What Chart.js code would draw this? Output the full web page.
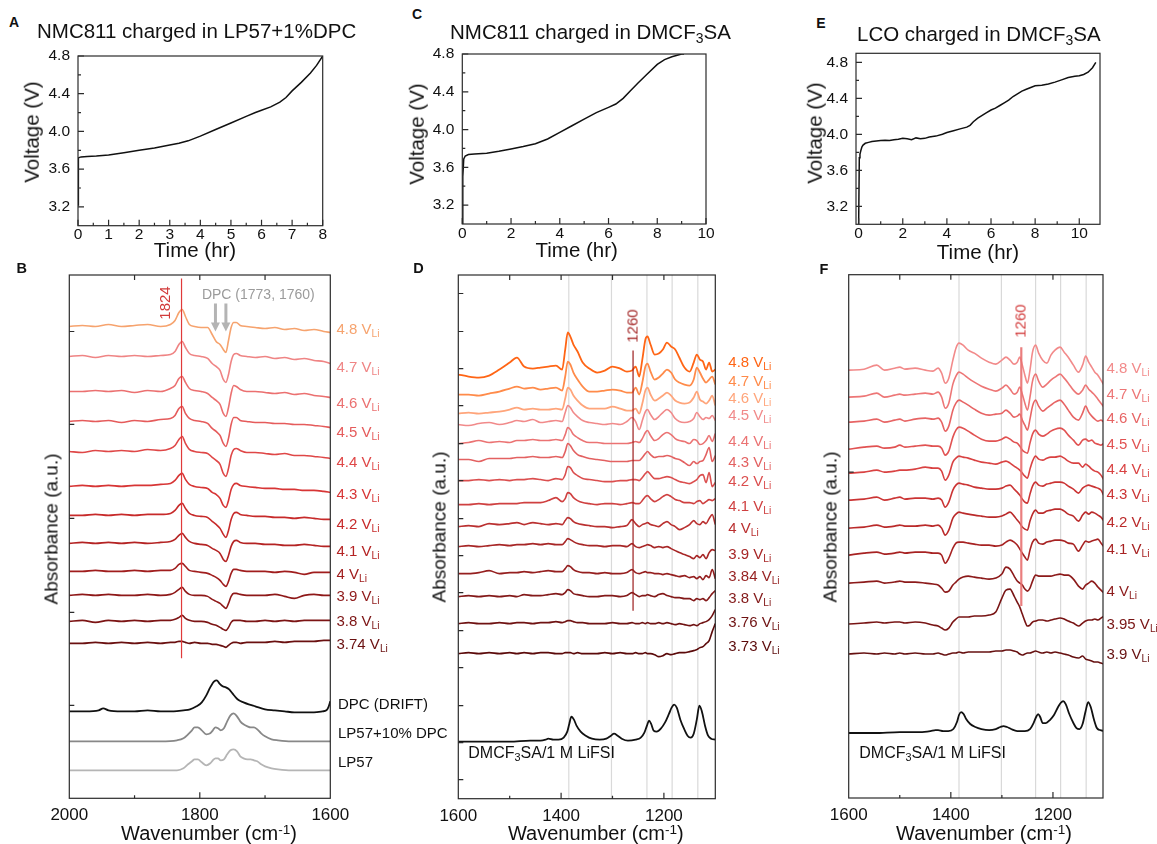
<!DOCTYPE html>
<html>
<head>
<meta charset="utf-8">
<script src="https://cdn.jsdelivr.net/npm/chart.js@4.4.1/dist/chart.umd.min.js"></script>
<style>
  body { margin: 0; background: #fff; width: 1157px; height: 844px; position: relative; overflow: hidden;
         font-family: "Liberation Sans", Arial, Helvetica, sans-serif; color: #111; }
  canvas { position: absolute; }
  .t { position: absolute; white-space: nowrap; line-height: 1; }
  .t sub { font-size: 0.68em; vertical-align: -0.3em; line-height: 0; }
  .t sup { font-size: 0.68em; vertical-align: 0.45em; line-height: 0; }
</style>
</head>
<body>
<script>
// ---------- top row: charge curves ----------
const timeA = [0, 0.005, 0.02, 0.1, 0.3, 0.6, 1, 1.5, 2, 2.5, 3, 3.3, 3.6, 4, 4.5, 5, 5.5, 5.8, 6, 6.3, 6.6, 6.8, 7, 7.3, 7.6, 7.8, 8];
const voltA = [3.22, 3.6, 3.72, 3.73, 3.735, 3.74, 3.75, 3.775, 3.8, 3.825, 3.855, 3.875, 3.9, 3.95, 4.02, 4.09, 4.16, 4.2, 4.225, 4.26, 4.31, 4.36, 4.43, 4.52, 4.62, 4.7, 4.8];

const timeC = [0, 0.02, 0.06, 0.12, 0.25, 0.5, 1, 1.5, 2, 2.5, 3, 3.5, 4, 4.5, 5, 5.5, 6, 6.3, 6.6, 6.9, 7.2, 7.6, 8, 8.3, 8.6, 9, 9.1];
const voltC = [3.0, 3.5, 3.69, 3.72, 3.735, 3.74, 3.75, 3.77, 3.795, 3.82, 3.85, 3.9, 3.97, 4.04, 4.11, 4.18, 4.235, 4.27, 4.33, 4.41, 4.49, 4.59, 4.69, 4.74, 4.77, 4.8, 4.8];

const timeE = [0, 0.03, 0.06, 0.1, 0.15, 0.2, 0.3, 0.45, 0.6, 0.8, 1, 1.2, 1.4, 1.6, 1.8, 2, 2.2, 2.4, 2.6, 2.8, 3, 3.2, 3.5, 3.8, 4, 4.3, 4.6, 4.9, 5.05, 5.2,
               5.4, 5.6, 5.8, 6, 6.2, 6.4, 6.6, 6.8, 7, 7.2, 7.4, 7.6, 7.8, 8, 8.3, 8.6, 8.9, 9.2, 9.5, 9.8, 10, 10.2, 10.4, 10.6, 10.75];
const voltE = [3.0, 3.74, 3.78, 3.82, 3.86, 3.88, 3.9, 3.91, 3.92, 3.925, 3.93, 3.935, 3.93, 3.94, 3.945, 3.955, 3.95, 3.94, 3.96, 3.95, 3.955, 3.97, 3.98, 4.0, 4.02, 4.04, 4.06, 4.08, 4.1, 4.14,
               4.18, 4.21, 4.24, 4.27, 4.29, 4.32, 4.35, 4.38, 4.42, 4.45, 4.48, 4.5, 4.52, 4.54, 4.545, 4.56, 4.58, 4.605, 4.63, 4.645, 4.65, 4.665, 4.69, 4.74, 4.8];

const timeTicksA = [0, 1, 2, 3, 4, 5, 6, 7, 8];
const timeTicksCE = [0, 2, 4, 6, 8, 10];
const voltTicks = [3.2, 3.6, 4.0, 4.4, 4.8];

// ---------- panel B: NMC811 in LP57+1%DPC ----------
const wnB = [2000, 1980, 1960, 1940, 1920, 1900, 1880, 1860, 1845, 1838, 1832, 1827, 1822, 1816, 1808, 1798, 1788, 1781, 1775,
             1769, 1764, 1760, 1756, 1752, 1748, 1744, 1738, 1728, 1715, 1700, 1685, 1670, 1655, 1640, 1625, 1610, 1600];
const levelsB = ['4.8', '4.7', '4.6', '4.5', '4.4', '4.3', '4.2', '4.1', '4', '3.9', '3.8', '3.74'];
const offsetB = [472, 442, 407, 377, 347, 312, 283, 255, 227, 203, 177, 155];
const labelAtB = [470, 432, 396, 367, 337, 305, 275, 248, 225, 203, 178, 155];
const specB = [
  [0,1,0,2,0, 1,2,0,2,6, 14,17,10,2,0, -1,-1,-8,-15,-18, -23,-26,-14,-1,4, 4,1,0,-1,-2, -1,-3,-2,-4,-3, -5,-6],
  [0,1,-1,1,0, 1,0,1,2,5, 12,15,9,3,1, 0,-2,-7,-10,-14, -23,-26,-18,-5,2, 3,1,0,-1,0, -2,-1,-3,-2,-4, -5,-7],
  [0,0,1,0,1, -1,1,0,3,6, 13,15,9,3,1, 0,-2,-6,-9,-13, -22,-25,-16,-2,6, 5,2,0,0,-1, -2,-1,-3,-2,-4, -5,-6],
  [0,1,0,1,-1, 1,0,2,3,6, 13,15,8,3,1, 0,-2,-7,-10,-14, -22,-25,-17,-3,4, 4,1,0,-1,-1, -2,-2,-3,-3,-4, -5,-6],
  [0,-1,1,0,1, 0,2,1,3,6, 12,15,8,2,0, -1,-2,-6,-9,-13, -22,-25,-17,-4,2, 3,1,-1,-1,-2, -3,-2,-4,-4,-5, -6,-7],
  [0,1,0,1,0, 1,1,2,3,6, 11,13,7,2,0, -1,-2,-6,-8,-12, -19,-21,-14,-3,2, 3,1,0,-1,-2, -2,-3,-3,-4,-4, -5,-6],
  [0,0,1,0,1, 0,1,1,2,5, 10,12,7,2,0, -1,-2,-6,-9,-13, -19,-22,-15,-4,2, 3,1,0,-1,-1, -2,-2,-3,-2,-3, -4,-4],
  [0,1,0,1,0, 1,0,1,2,4, 8,10,6,2,0, -1,-2,-5,-7,-10, -16,-18,-12,-3,2, 3,1,0,0,-1, -1,-2,-2,-1,-2, -3,-3],
  [0,0,1,0,0, 1,0,1,1,3, 7,8,5,1,0, -1,-2,-4,-6,-9, -13,-15,-10,-2,2, 2,1,0,0,0, -1,0,-1,-3,-1, -1,-1],
  [0,1,0,1,0, 0,1,0,1,3, 6,8,4,1,0, 0,-1,-4,-6,-8, -11,-13,-8,-1,2, 2,1,0,0,0, 1,-1,-3,0,1, 0,0],
  [0,1,-1,1,0, 1,0,1,1,2, 4,6,3,1,0, 0,-1,-3,-4,-6, -8,-9,-6,-1,1, 1,1,0,0,1, 0,1,0,1,1, 1,1],
  [0,0,1,0,1, 0,1,0,1,1, 2,2,1,0,1, 0,0,-1,-1,-2, -3,-4,-2,0,1, 1,0,1,1,1, 2,1,2,2,2, 3,3]
];
const wnDPC = [2000, 1975, 1955, 1948, 1940, 1920, 1900, 1880, 1860, 1840, 1825, 1815, 1805, 1797, 1790, 1784, 1778, 1774, 1770,
               1765, 1760, 1755, 1750, 1745, 1740, 1733, 1725, 1715, 1700, 1685, 1670, 1655, 1640, 1625, 1612, 1606, 1603, 1600];
const dpcDrift = [0,0,1,3,1, 0,0,1,0,0, 1,2,5,9,16, 24,30,31,28,25, 24,22,18,14,11, 9,7,5,2,1, 0,-1,-1,-1,0, 1,4,10];
const wnLP = [2000, 1950, 1900, 1860, 1835, 1825, 1818, 1812, 1808, 1803, 1797, 1790, 1784, 1780, 1776, 1772, 1768, 1763,
              1758, 1753, 1748, 1743, 1738, 1733, 1727, 1722, 1717, 1712, 1706, 1700, 1690, 1680, 1660, 1640, 1620, 1600];
const lp57dpc = [0,0,0,0,1, 3,7,11,14,14, 11,7,8,11,14, 13,11,13,20,26, 28,25,20,17,15, 14,14,12,8,5, 2,1,0,0,0, 0];
const lp57 = [0,0,0,0,0, 2,6,9,11,11, 8,5,7,10,12, 12,10,11,16,20, 21,19,14,12,11, 11,10,9,6,4, 2,1,0,0,0, 0];
const refNamesB = ['DPC (DRIFT)', 'LP57+10% DPC', 'LP57'];
const refOffsetB = [87, 57, 28];
const refLabelAtB = [95, 66, 37];
const peakB = 1828;                 // 1824 marker
const dpcArrows = [1776, 1760];

// ---------- panel D: NMC811 in DMCF3SA ----------
const wnD = [1600, 1580, 1560, 1540, 1520, 1500, 1486, 1472, 1455, 1440, 1425, 1410, 1398, 1392, 1387, 1382, 1376, 1368, 1358,
             1345, 1330, 1315, 1300, 1285, 1272, 1262, 1255, 1248, 1242, 1236, 1232, 1226, 1218, 1210, 1202, 1194, 1186, 1178,
             1170, 1160, 1150, 1142, 1136, 1130, 1124, 1118, 1112, 1106, 1100];
const levelsD = ['4.8', '4.7', '4.6', '4.5', '4.4', '4.3', '4.2', '4.1', '4', '3.9', '3.84', '3.8', '3.76', '3.73'];
const offsetD = [424, 404, 385, 374, 355, 339, 318, 294, 272, 252, 225, 202, 175, 145];
const labelAtD = [438, 419, 402, 385, 359, 338, 319, 294, 272, 246, 224, 202, 178, 154];
const specD = [
  [0,-2,-3,-1,5, 12,17,8,6,7, 8,9,5,25,42, 38,30,23,12,6, 2,4,8,6,3, 4,8,-2,15,35, 38,30,20,21,25, 32,28,25,17,7, 3,12,20,15,13, 5,12,3,5],
  [0,0,-1,1,3, 6,8,6,7,5, 6,7,4,18,33, 30,22,15,8,3, 3,4,5,4,2, 2,7,0,12,28, 31,23,15,17,21, 25,22,15,12,10, 9,15,27,22,16, 12,15,18,10],
  [0,1,0,1,2, 4,6,4,5,4, 4,5,4,15,26, 24,18,13,8,5, 5,5,7,5,3, 3,5,0,10,23, 26,19,13,15,18, 21,18,13,11,10, 11,16,22,14,12, 10,13,18,8],
  [0,-1,1,2,0, 2,4,3,5,2, 3,4,3,12,19, 17,12,8,4,2, 1,0,1,0,3, 7,3,-5,4,13, 15,10,5,8,12, 15,12,6,3,2, 3,6,12,8,5, 7,6,9,4],
  [0,1,3,1,2, 1,3,3,4,3, 3,4,3,9,16, 14,9,6,3,1, 1,0,0,0,0, 1,2,1,5,11, 13,8,3,5,9, 11,9,5,3,2, 0,4,3,-1,0, 3,8,2,10],
  [0,0,-2,1,1, 1,2,2,3,2, 2,3,2,8,16, 14,9,5,3,1, 0,-1,-2,-2,-2, -1,-1,-1,2,6, 8,5,2,3,3, 4,3,1,0,-3, -6,-2,-4,-2,-1, 5,12,-2,4],
  [0,0,1,0,1, 0,1,1,2,1, 0,2,1,6,14, 13,8,5,2,1, 0,-1,-1,0,0, 1,1,0,3,7, 9,6,2,2,3, 4,3,1,-1,-2, -3,-1,1,5,6, -2,8,-6,-2],
  [0,0,1,0,1, 1,1,2,2,2, 4,7,3,6,12, 11,7,4,2,1, 0,1,1,0,1, 2,1,1,4,8, 9,6,3,5,8, 10,8,5,4,2, 2,1,3,4,1, 3,5,4,6],
  [0,1,0,3,2, 3,4,2,4,3, 2,3,2,6,9, 8,5,3,2,1, 0,0,-1,0,1, 7,3,0,2,3, 4,2,1,0,3, 5,2,0,-3,-1, 2,6,3,2,5, 3,8,12,2],
  [0,1,0,1,2, 1,2,2,3,2, 3,2,2,5,8, 7,5,3,2,1, 1,0,1,1,0, 3,0,-1,0,1, 2,1,-1,0,-1, 0,-2,-4,-6,-8, -10,-12,-9,-11,-8, -12,-6,-3,-4],
  [0,0,1,3,0, 1,1,2,1,2, 3,2,2,5,8, 7,4,2,1,1, 0,1,0,0,1, 4,1,0,1,2, 1,1,0,0,-1, 0,-1,-2,-3,-2, -4,-3,-5,-3,-6, -2,-4,4,-5],
  [0,1,0,1,0, 1,0,2,1,1, 2,3,2,4,7, 6,3,2,1,0, 0,1,1,0,1, 4,2,0,1,1, 2,1,0,2,3, 1,0,-1,-1,-2, -2,-4,-2,-3,-2, -4,-1,3,6],
  [0,1,0,0,1, 0,1,1,0,1, 1,2,1,2,3, 3,2,1,1,0, 0,0,1,0,0, 1,0,0,1,0, 1,0,0,1,0, 1,0,-1,0,-1, -2,-1,-2,0,1, 2,4,8,14],
  [0,1,0,1,0, 1,0,1,0,1, 1,0,0,1,1, 1,0,1,0,0, 0,1,0,1,0, 0,1,0,0,1, 0,0,-1,-3,-2, 0,-1,0,1,1, 2,3,4,6,7, 10,13,22,30]
];
// DMCF3SA/1 M LiFSI reference (shared wavenumber grid for D and F)
const wnRef = [1600, 1550, 1500, 1460, 1440, 1430, 1425, 1415, 1405, 1395, 1388, 1384, 1380, 1375, 1370, 1362, 1352, 1340,
               1325, 1312, 1303, 1297, 1290, 1282, 1270, 1255, 1245, 1238, 1233, 1229, 1225, 1220, 1214, 1206, 1198, 1190,
               1185, 1180, 1175, 1168, 1160, 1154, 1148, 1142, 1136, 1131, 1126, 1120, 1114, 1108, 1100];
const refD = [0,0,0,1,1, 2,3,2,2,4, 10,18,25,22,16, 10,6,3,2,3, 6,8,6,3,1, 2,4,9,16,21, 18,11,10,13,19, 28,34,37,34,22, 12,6,4,8,22, 36,30,16,6,3, 2];
const refOffsetD = 57;
const peakD = 1260;
const guideD = [1385, 1302, 1233, 1184, 1134];

// ---------- panel F: LCO in DMCF3SA ----------
const wnF = [1600, 1570, 1545, 1530, 1510, 1500, 1490, 1470, 1450, 1435, 1425, 1418, 1411, 1404, 1396, 1390, 1384, 1376, 1366,
             1354, 1340, 1325, 1312, 1300, 1292, 1284, 1276, 1270, 1265, 1260, 1255, 1250, 1245, 1240, 1234, 1228, 1220, 1212,
             1204, 1196, 1186, 1178, 1170, 1160, 1150, 1142, 1136, 1130, 1124, 1118, 1112, 1106, 1100];
const levelsF = ['4.8', '4.7', '4.6', '4.5', '4.4', '4.3', '4.2', '4.1', '4', '3.95', '3.9'];
const offsetF = [428, 401, 376, 349, 325, 298, 270, 243, 215, 174, 144];
const labelAtF = [431, 405, 381, 355, 330, 305, 277, 250, 208, 175, 145];
const specF = [
  [0,1,5,0,2, 3,1,2,0,-1, 2,-3,-13,-8,10, 22,27,25,20,17, 12,8,6,10,13, 10,6,8,13,5, -5,-13,0,18,25, 17,10,7,15,20, 23,18,13,5,-2, 5,14,8,3,-2, -5,-10,-15],
  [0,1,4,0,2, 3,2,3,4,3, 5,0,-11,-6,13, 21,25,23,19,15, 11,8,6,9,12, 8,3,5,10,3, -6,-13,0,16,23, 16,10,13,17,20, 23,19,14,7,3, 7,12,8,5,2, -2,-6,-10],
  [0,1,3,0,2, 3,1,3,4,3, 4,0,-9,-4,12, 19,22,20,17,13, 9,7,8,9,12, 9,5,6,8,2, -3,-8,3,16,22, 16,11,14,17,20, 22,18,12,5,2, 9,16,10,6,3, 1,2,0],
  [0,2,3,1,2, 4,2,3,4,3, 3,1,-6,-2,12, 19,22,21,18,14, 10,8,8,10,12, 10,7,6,3,-1, -3,-4,6,15,19, 15,13,15,18,20, 21,19,14,9,4, 9,10,8,9,6, 5,4,6],
  [0,1,3,1,2, 3,3,4,6,5, 5,2,-7,-2,11, 15,17,16,15,13, 11,10,9,11,12, 10,7,5,3,0, -3,-5,4,12,17, 14,13,15,16,16, 17,15,12,10,10, 6,9,7,4,2, 1,-2,-7],
  [0,1,3,0,2, 3,1,2,2,1, 2,0,-7,-2,10, 15,17,16,15,13, 12,11,11,12,14, 15,11,8,5,1, -2,-3,6,14,18, 15,14,16,17,18, 18,17,14,11,7, 12,14,15,14,13, 12,10,4],
  [0,1,3,1,2, 3,2,2,3,2, 3,0,-7,-2,10, 14,16,15,14,13, 12,11,11,12,14, 16,12,8,5,1, -1,-2,7,14,18, 15,15,17,18,19, 19,17,14,12,7, 13,16,14,16,15, 13,11,7],
  [0,2,3,1,2, 3,2,3,3,2, 2,0,-8,-3,7, 12,13,13,12,11, 10,10,9,10,13, 15,13,10,6,2, -2,-5,5,13,16, 12,11,13,14,15, 15,14,12,11,4, 10,14,13,14,15, 16,12,8],
  [0,1,2,0,1, 2,1,1,0,-1, -2,-5,-9,-8,-2, 1,4,6,7,6, 5,4,5,9,16, 14,7,2,0,-2, -6,-8,-5,2,8, 7,7,7,7,8, 9,8,8,4,-3, -6,-2,0,2,0, -4,-7,-10],
  [0,1,2,1,2, 2,1,2,1,-1, -2,-4,-6,-4,2, 5,7,7,7,8, 8,9,12,26,34, 35,28,22,17,10, 3,-2,-1,2,3, 4,4,3,4,5, 6,5,3,1,-2, 1,3,4,4,5, 4,6,8],
  [0,1,0,1,0, 1,0,1,0,0, 1,0,-1,0,1, 1,2,1,2,2, 2,2,3,3,4, 4,3,2,0,-1, 0,1,1,2,3, 2,1,2,1,2, 1,0,-1,-3,-4, -2,-5,-6,-7,-8, -8,-9,-10]
];
const refF = [0,0,1,1,2, 3,3,2,2,4, 11,18,21,19,14, 9,6,4,3,4, 6,7,6,4,2, 2,4,10,16,19, 16,10,10,13,18, 26,30,32,29,19, 10,5,4,9,22, 31,26,14,5,3, 2];
const refOffsetF = 65;
const peakF = 1262;
const guideF = [1384, 1301, 1234, 1185, 1135];

const wnTicksB = [2000, 1800, 1600];
const wnTicksDF = [1600, 1400, 1200];

// ---------- styles ----------
const colorsB = ['#f6a36e', '#ef8484', '#eb7070', '#e55b5b', '#df4747', '#d73535', '#c72a2a', '#b42323', '#a01d1d', '#8e1818', '#7c1414', '#6a1010'];
const colorsD = ['#ff6515', '#ff8b4a', '#ffa57b', '#f18a8a', '#eb7373', '#e36161', '#db4e4e', '#cf4040', '#ba3030', '#a72626', '#951f1f', '#831919', '#6f1212', '#5b0a0a'];
const colorsF = ['#f28a8a', '#ed7676', '#e76464', '#e15252', '#d94242', '#cb3434', '#ba2a2a', '#a72222', '#8c1a1a', '#781414', '#661010'];
const refColorsB = ['#111111', '#888888', '#b5b5b5'];

Chart.defaults.font.family = '"Liberation Sans", Arial, Helvetica, sans-serif';

function text(html, x, y, o = {}) {
  const d = document.createElement('div');
  d.className = 't';
  d.innerHTML = html;
  d.style.left = x + 'px';
  d.style.top = y + 'px';
  d.style.fontSize = (o.size || 15) + 'px';
  if (o.color) d.style.color = o.color;
  if (o.bold) d.style.fontWeight = 'bold';
  let tr = o.align === 'center' ? 'translate(-50%,-50%)' : 'translate(0,-50%)';
  if (o.rotate) tr = 'translate(-50%,-50%) rotate(-90deg)';
  d.style.transform = tr;
  document.body.appendChild(d);
}

// box outline + inward tick marks
function framePlugin(marks) {
  return {
    id: 'frame',
    afterDraw(chart) {
      const { ctx, chartArea: a, scales } = chart;
      ctx.save();
      ctx.strokeStyle = '#2b2b2b';
      ctx.lineWidth = 1.2;
      ctx.strokeRect(a.left, a.top, a.right - a.left, a.bottom - a.top);
      ctx.beginPath();
      marks.forEach(([side, vals, len]) => {
        vals.forEach(v => {
          if (side === 'left') {
            const y = scales.y.getPixelForValue(v);
            ctx.moveTo(a.left, y);
            ctx.lineTo(a.left + len, y);
          } else {
            const x = scales.x.getPixelForValue(v);
            const y0 = side === 'top' ? a.top : a.bottom;
            ctx.moveTo(x, y0);
            ctx.lineTo(x, side === 'top' ? y0 + len : y0 - len);
          }
        });
      });
      ctx.stroke();
      ctx.restore();
    }
  };
}

// vertical guide lines / markers / arrows
function linesPlugin(behind, front) {
  const draw = (chart, list) => {
    const { ctx, chartArea: a, scales: { x, y } } = chart;
    ctx.save();
    list.forEach(l => {
      const px = x.getPixelForValue(l.x);
      const y0 = l.from == null ? a.bottom : y.getPixelForValue(l.from);
      const y1 = l.to == null ? a.top : y.getPixelForValue(l.to);
      ctx.strokeStyle = l.color;
      ctx.fillStyle = l.color;
      ctx.lineWidth = l.width;
      ctx.beginPath();
      ctx.moveTo(px, l.arrow ? y0 - 8 : y0);
      ctx.lineTo(px, y1);
      ctx.stroke();
      if (l.arrow) {
        ctx.beginPath();
        ctx.moveTo(px, y0);
        ctx.lineTo(px - 4.5, y0 - 9);
        ctx.lineTo(px + 4.5, y0 - 9);
        ctx.closePath();
        ctx.fill();
      }
    });
    ctx.restore();
  };
  return { id: 'lines', beforeDatasetsDraw: c => draw(c, behind), afterDatasetsDraw: c => draw(c, front) };
}

function makeChart(box, area, o) {
  const cv = document.createElement('canvas');
  cv.width = box[2];
  cv.height = box[3];
  cv.style.left = box[0] + 'px';
  cv.style.top = box[1] + 'px';
  document.body.appendChild(cv);
  const yW = o.yLabels ? 40 : 0, xH = 24;
  return new Chart(cv, {
    type: 'line',
    data: { datasets: o.datasets },
    options: {
      responsive: false,
      animation: false,
      events: [],
      layout: { padding: { left: area[0] - box[0] - yW, top: area[1] - box[1], right: box[0] + box[2] - area[2], bottom: box[1] + box[3] - area[3] - xH } },
      plugins: { legend: { display: false }, tooltip: { enabled: false } },
      elements: { point: { radius: 0 } },
      scales: {
        x: {
          type: 'linear', min: o.xMin, max: o.xMax, reverse: !!o.reverse,
          grid: { display: false, drawTicks: false }, border: { display: false },
          ticks: { font: { size: o.xFont }, padding: o.xPad, color: '#111', maxRotation: 0, autoSkip: false, callback: v => String(v) },
          afterBuildTicks: s => { s.ticks = o.xLabels.map(v => ({ value: v })); },
          afterFit: s => { s.height = xH; s.paddingLeft = 0; s.paddingRight = 0; }
        },
        y: {
          type: 'linear', display: !!o.yLabels, min: o.yMin, max: o.yMax,
          grid: { display: false, drawTicks: false }, border: { display: false },
          ticks: { font: { size: 15.5 }, padding: 8, color: '#111', autoSkip: false, callback: v => v.toFixed(1) },
          afterBuildTicks: s => { if (o.yLabels) s.ticks = o.yLabels.map(v => ({ value: v })); },
          afterFit: s => { s.width = yW; s.paddingTop = 0; s.paddingBottom = 0; }
        }
      }
    },
    plugins: [linesPlugin(o.behind || [], o.front || []), framePlugin(o.marks)]
  });
}

const curve = (xs, ys) => ({ data: xs.map((x, i) => ({ x, y: ys[i] })), borderColor: '#111', borderWidth: 1.5, tension: 0 });
const trace = (xs, off, ys, color, w) => ({
  data: xs.map((x, i) => ({ x, y: off + ys[i] })), borderColor: color, borderWidth: w || 1.6, cubicInterpolationMode: 'monotone'
});
const halves = (a, b) => { const r = []; for (let v = a; v < b; v++) r.push(v + 0.5); return r; };
const odds = [1, 3, 5, 7, 9];
const voltMinor = [3.4, 3.8, 4.2, 4.6];

// ---------- A ----------
makeChart([0, 40, 390, 230], [78, 56, 322.7, 225.7], {
  datasets: [curve(timeA, voltA)],
  xMin: 0, xMax: 8, xLabels: timeTicksA, xFont: 15.5, xPad: 0,
  yMin: 3.0, yMax: 4.8, yLabels: voltTicks,
  marks: [['bottom', timeTicksA, 6], ['bottom', halves(0, 8), 3], ['left', voltTicks, 6], ['left', voltMinor, 3]]
});
// ---------- C ----------
makeChart([390, 40, 390, 230], [462.3, 54, 706, 224], {
  datasets: [curve(timeC, voltC)],
  xMin: 0, xMax: 10, xLabels: timeTicksCE, xFont: 15.5, xPad: 0,
  yMin: 3.0, yMax: 4.8, yLabels: voltTicks,
  marks: [['bottom', timeTicksCE, 6], ['bottom', odds, 3], ['left', voltTicks, 6], ['left', voltMinor, 3]]
});
// ---------- E ----------
makeChart([780, 40, 377, 230], [856, 53.3, 1100, 224.3], {
  datasets: [curve(timeE, voltE)],
  xMin: -0.12, xMax: 10.94, xLabels: timeTicksCE, xFont: 15.5, xPad: 0,
  yMin: 3.0, yMax: 4.9, yLabels: voltTicks,
  marks: [['bottom', timeTicksCE, 6], ['bottom', odds, 3], ['left', voltTicks, 6], ['left', voltMinor, 3]]
});

// ---------- B ----------
const boxB = [0, 262, 460, 582];
const chartB = makeChart(boxB, [69.3, 275, 330.3, 798.3], {
  datasets: [
    ...specB.map((s, i) => trace(wnB, offsetB[i], s, colorsB[i])),
    trace(wnDPC, refOffsetB[0], dpcDrift, refColorsB[0], 1.8),
    trace(wnLP, refOffsetB[1], lp57dpc, refColorsB[1], 1.8),
    trace(wnLP, refOffsetB[2], lp57, refColorsB[2], 1.8)
  ],
  xMin: 1600, xMax: 2000, reverse: true, xLabels: wnTicksB, xFont: 17, xPad: 7,
  yMin: 0, yMax: 523.5,
  marks: [['bottom', [1800], 6], ['bottom', [1900, 1700], 3], ['top', [1900, 1800, 1700], 5], ['left', [93, 186, 280, 374, 467], 5]],
  front: [
    { x: peakB, from: 140, to: 520, color: '#e03a3a', width: 1.2 },
    ...dpcArrows.map(x => ({ x, from: 467, to: 495, color: '#b4b4b4', width: 3, arrow: true }))
  ]
});
// ---------- D ----------
const boxD = [395, 262, 390, 582];
const chartD = makeChart(boxD, [458.3, 275, 715.3, 798.7], {
  datasets: [
    ...specD.map((s, i) => trace(wnD, offsetD[i], s, colorsD[i], i < 3 ? 1.8 : 1.6)),
    trace(wnRef, refOffsetD, refD, '#111111', 1.8)
  ],
  xMin: 1100, xMax: 1600, reverse: true, xLabels: wnTicksDF, xFont: 17, xPad: 7,
  yMin: 0, yMax: 523.5,
  marks: [['bottom', [1400, 1200], 6], ['bottom', [1500, 1300], 3], ['top', [1500, 1400, 1300, 1200], 5],
          ['left', [19, 56, 93, 131, 168, 206, 243, 280, 318, 355, 393, 430, 467, 505], 5]],
  behind: guideD.map(x => ({ x, color: '#d9d9d9', width: 1.2 })),
  front: [{ x: peakD, from: 188, to: 448, color: '#9c1c1c', width: 1.2 }]
});
// ---------- F ----------
const boxF = [785, 262, 372, 582];
const chartF = makeChart(boxF, [848.7, 274.7, 1103, 798], {
  datasets: [
    ...specF.map((s, i) => trace(wnF, offsetF[i], s, colorsF[i])),
    trace(wnRef, refOffsetF, refF, '#111111', 1.8)
  ],
  xMin: 1102, xMax: 1600, reverse: true, xLabels: wnTicksDF, xFont: 17, xPad: 7,
  yMin: 0, yMax: 523.5,
  marks: [['bottom', [1400, 1200], 6], ['bottom', [1500, 1300], 3], ['top', [1500, 1400, 1200], 5], ['left', [326], 5]],
  behind: guideF.map(x => ({ x, color: '#d9d9d9', width: 1.2 })),
  front: [{ x: peakF, from: 192, to: 451, color: 'rgba(232,112,112,0.9)', width: 2.2 }]
});

// ---------- side labels, placed through the y scales ----------
function sideLabels(chart, box, x, names, at, colors, sub) {
  names.forEach((n, i) => {
    const y = box[1] + chart.scales.y.getPixelForValue(at[i]);
    text(sub ? `${n} V<sub>Li</sub>` : n, x, y, { size: 15, color: colors[i] });
  });
}
sideLabels(chartB, boxB, 336.5, levelsB, labelAtB, colorsB, true);
sideLabels(chartB, boxB, 338, refNamesB, refLabelAtB, ['#111', '#111', '#111'], false);
sideLabels(chartD, boxD, 728.3, levelsD, labelAtD, colorsD, true);
sideLabels(chartF, boxF, 1106.5, levelsF, labelAtF, colorsF, true);

// ---------- titles, axis titles, annotations ----------
text('A', 14, 22, { size: 14, bold: true, align: 'center' });
text('C', 417, 14, { size: 14, bold: true, align: 'center' });
text('E', 821, 23, { size: 14, bold: true, align: 'center' });
text('B', 21.7, 268, { size: 14.5, bold: true, align: 'center' });
text('D', 418.5, 268, { size: 14.5, bold: true, align: 'center' });
text('F', 824, 268.5, { size: 14.5, bold: true, align: 'center' });

text('NMC811 charged in LP57+1%DPC', 37, 31, { size: 20.5 });
text('NMC811 charged in DMCF<sub>3</sub>SA', 450, 32, { size: 20.5 });
text('LCO charged in DMCF<sub>3</sub>SA', 857, 34, { size: 20.5 });

text('Voltage (V)', 32.3, 131.5, { size: 20.5, rotate: true });
text('Voltage (V)', 416.7, 134, { size: 20.5, rotate: true });
text('Voltage (V)', 815, 133, { size: 20.5, rotate: true });
text('Time (hr)', 195, 250, { size: 20.5, align: 'center' });
text('Time (hr)', 576.7, 250, { size: 20.5, align: 'center' });
text('Time (hr)', 978, 252, { size: 20.5, align: 'center' });

text('Absorbance (a.u.)', 51, 529, { size: 19, rotate: true });
text('Absorbance (a.u.)', 439, 527, { size: 19, rotate: true });
text('Absorbance (a.u.)', 830, 527, { size: 19, rotate: true });
text('Wavenumber (cm<sup>-1</sup>)', 209, 833, { size: 20, align: 'center' });
text('Wavenumber (cm<sup>-1</sup>)', 595.8, 833, { size: 20, align: 'center' });
text('Wavenumber (cm<sup>-1</sup>)', 984, 833, { size: 20, align: 'center' });

text('1824', 164, 303, { size: 15, rotate: true, color: '#d23a3a' });
text('DPC (1773, 1760)', 258.3, 294.3, { size: 14, align: 'center', color: '#9b9b9b' });
text('1260', 631.7, 326, { size: 15, rotate: true, color: '#a32626' });
text('1260', 1019.7, 321, { size: 15, rotate: true, color: '#d23a3a' });
text('DMCF<sub>3</sub>SA/1 M LiFSI', 468.3, 752.7, { size: 16 });
text('DMCF<sub>3</sub>SA/1 M LiFSI', 859.3, 752.7, { size: 16 });
</script>
</body>
</html>
